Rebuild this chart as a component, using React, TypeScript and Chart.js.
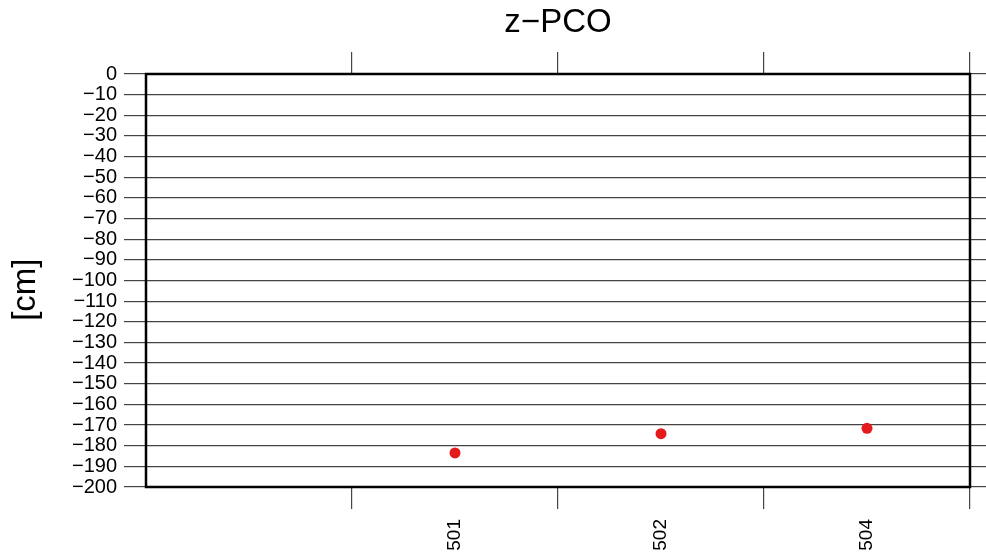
import React, { useEffect, useRef } from "react";
import { Chart, registerables } from "chart.js";

Chart.register(...registerables);

const title = "z\u2212PCO";
const yTitle = "[cm]  ";
const categories = ["501", "502", "504"];
const values = [-183.5, -174.2, -171.6];
const yMin = -200;
const yMax = 0;
const yStep = 10;

const FONT = "'Liberation Sans', Arial, Helvetica, sans-serif";

const framePlugin = {
  id: "frame",
  afterDatasetsDraw(chart: any) {
    const { ctx, chartArea } = chart;
    ctx.save();
    ctx.strokeStyle = "#000";
    ctx.lineWidth = 2.5;
    ctx.strokeRect(
      chartArea.left,
      chartArea.top,
      chartArea.right - chartArea.left,
      chartArea.bottom - chartArea.top
    );
    ctx.restore();
  },
};

export default function App() {
  const ref = useRef<HTMLCanvasElement | null>(null);

  useEffect(() => {
    if (!ref.current) return;
    const labels = ["", ...categories];
    const data = [null, ...values];
    const gridColor = "#444";
    const xGrid = {
      offset: true,
      drawOnChartArea: false,
      drawTicks: true,
      tickLength: 22,
      lineWidth: 1.2,
      color: (c: any) => (c.index === 0 ? "rgba(0,0,0,0)" : gridColor),
    };
    const chart = new Chart(ref.current, {
      type: "line",
      data: {
        labels,
        datasets: [
          {
            data,
            showLine: false,
            pointRadius: 5.5,
            pointHoverRadius: 5.5,
            pointBackgroundColor: "#E41A1C",
            pointBorderWidth: 0,
            borderColor: "#E41A1C",
          },
        ],
      },
      options: {
        responsive: false,
        animation: false,
        events: [],
        layout: { padding: { left: 2, right: 0, top: 0, bottom: 0 } },
        plugins: {
          legend: { display: false },
          tooltip: { enabled: false },
          title: {
            display: true,
            fullSize: false,
            text: title,
            color: "#000",
            font: { family: FONT, size: 33, weight: "normal" },
            padding: { top: 3.2, bottom: 9.2 },
          },
        },
        scales: {
          x: {
            type: "category",
            position: "bottom",
            offset: true,
            grid: xGrid as any,
            border: { display: false },
            ticks: {
              autoSkip: false,
              minRotation: 90,
              maxRotation: 90,
              padding: 10,
              color: "#000",
              font: { family: FONT, size: 19 },
            },
            afterFit: (s: any) => {
              s.height = 66;
            },
          },
          x2: {
            type: "category",
            position: "top",
            labels,
            offset: true,
            grid: xGrid as any,
            border: { display: false },
            ticks: { display: false, autoSkip: false },
            afterFit: (s: any) => {
              s.height = 22;
            },
          },
          y: {
            type: "linear",
            position: "left",
            min: yMin,
            max: yMax,
            grid: { color: gridColor, lineWidth: 1.2, tickLength: 22 },
            border: { display: false },
            ticks: {
              stepSize: yStep,
              autoSkip: false,
              maxTicksLimit: 100,
              padding: 7,
              color: "#000",
              font: { family: FONT, size: 20 },
              callback: (v: any) => String(v).replace("-", "\u2212"),
            },
            title: {
              display: true,
              text: yTitle,
              color: "#000",
              font: { family: FONT, size: 33 },
              padding: { top: 4, bottom: 4 },
            },
            afterFit: (s: any) => {
              s.width = 144;
            },
          },
          y2: {
            type: "linear",
            position: "right",
            min: yMin,
            max: yMax,
            grid: {
              color: gridColor,
              lineWidth: 1.2,
              tickLength: 16,
              drawOnChartArea: false,
            },
            border: { display: false },
            ticks: {
              display: false,
              stepSize: yStep,
              autoSkip: false,
              maxTicksLimit: 100,
            },
          },
        },
      } as any,
      plugins: [framePlugin],
    });
    return () => chart.destroy();
  }, []);

  return (
    <div
      style={{
        position: "fixed",
        left: 0,
        top: 0,
        width: 986,
        height: 553,
        background: "#fff",
      }}
    >
      <canvas ref={ref} width={986} height={553} />
    </div>
  );
}
